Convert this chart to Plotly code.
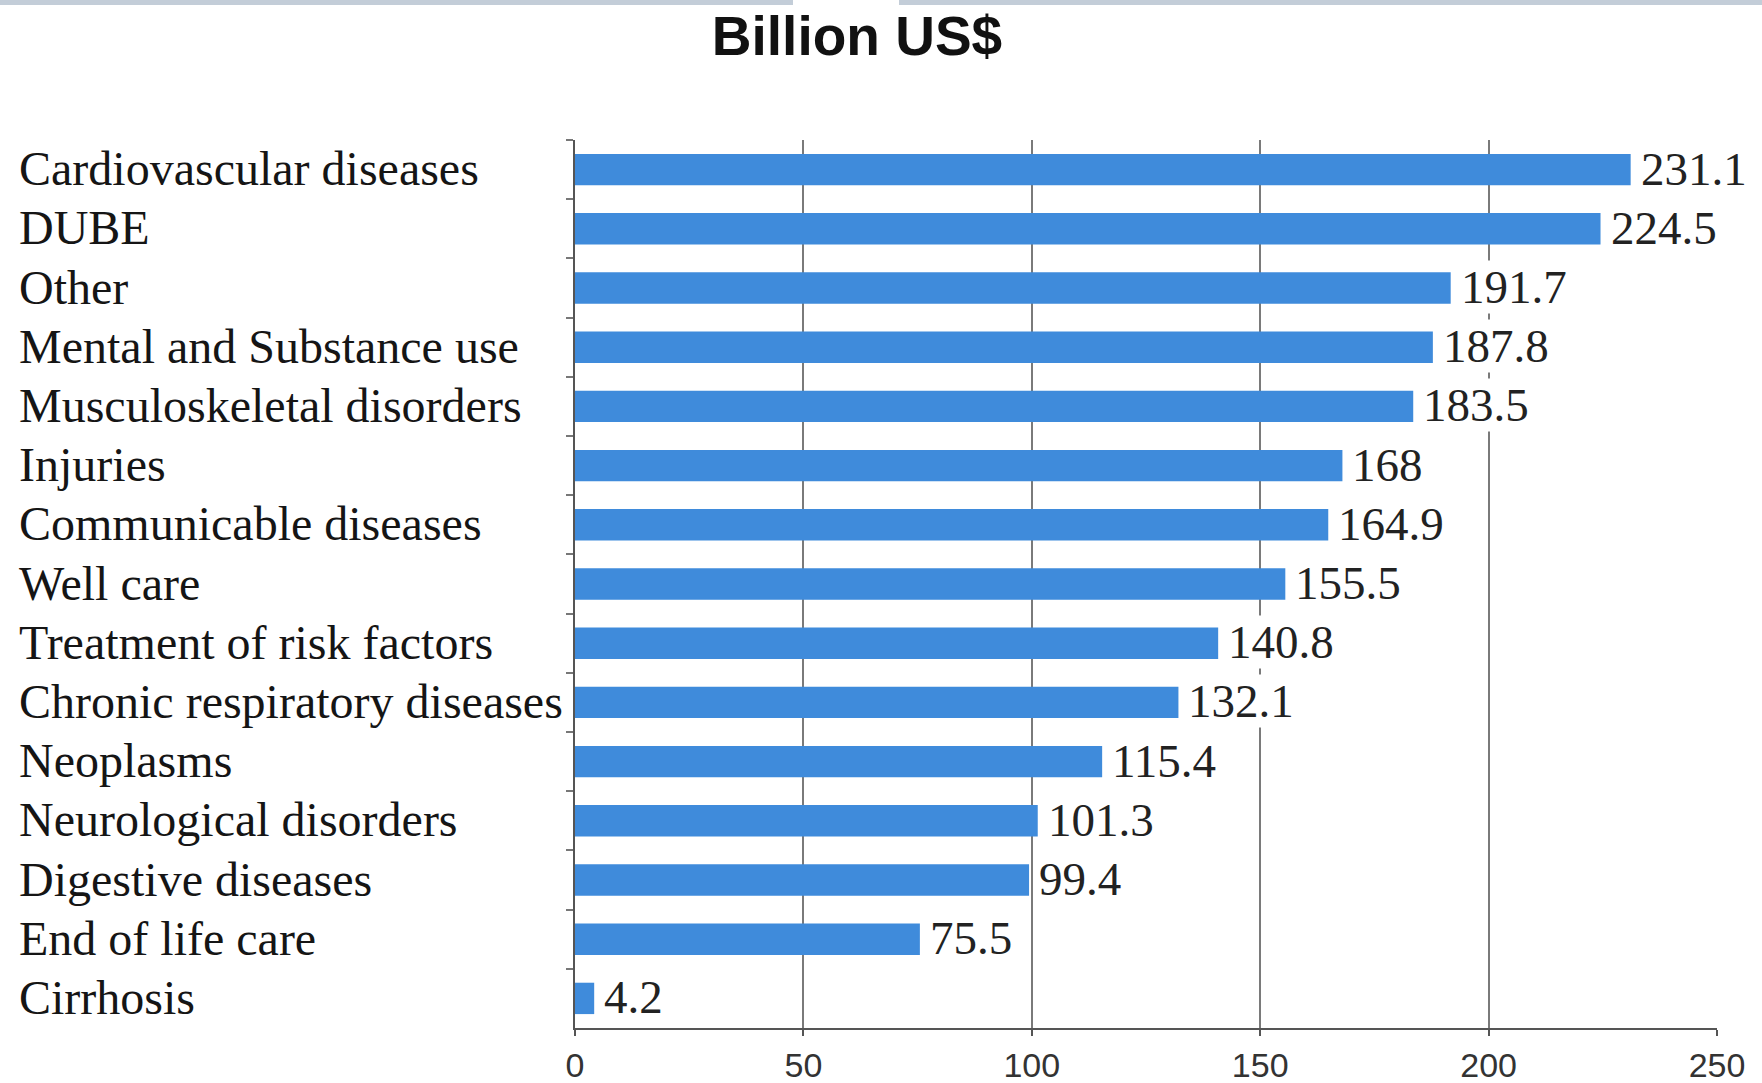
import plotly.graph_objects as go

categories = [
    "Cardiovascular diseases", "DUBE", "Other", "Mental and Substance use",
    "Musculoskeletal disorders", "Injuries", "Communicable diseases", "Well care",
    "Treatment of risk factors", "Chronic respiratory diseases", "Neoplasms",
    "Neurological disorders", "Digestive diseases", "End of life care", "Cirrhosis",
]
values = [231.1, 224.5, 191.7, 187.8, 183.5, 168, 164.9, 155.5, 140.8, 132.1,
          115.4, 101.3, 99.4, 75.5, 4.2]
value_labels = ["231.1", "224.5", "191.7", "187.8", "183.5", "168", "164.9", "155.5",
                "140.8", "132.1", "115.4", "101.3", "99.4", "75.5", "4.2"]
x_ticks = [0, 50, 100, 150, 200, 250]
title_text = "Billion US$"

W, H = 1762, 1083
ML, MR, MT, MB = 575, 45, 140, 55
PW = W - ML - MR
PH = H - MT - MB

BAR = "#3F8BDB"
SERIF = "Liberation Serif, Times New Roman, serif"
SANS = "Liberation Sans, Arial, sans-serif"

fig = go.Figure()
fig.add_trace(go.Bar(
    x=values, y=categories, orientation="h",
    marker=dict(color=BAR, line=dict(width=0)),
    hoverinfo="x+y",
))

annotations = []
for c, v, t in zip(categories, values, value_labels):
    annotations.append(dict(
        x=v, y=c, xref="x", yref="y", text=t, showarrow=False,
        xanchor="left", yanchor="middle", xshift=9, yshift=1,
        font=dict(family=SERIF, size=47, color="#222222"),
        bgcolor="white", borderpad=0,
    ))
for c in categories:
    annotations.append(dict(
        x=-(ML - 17) / PW, y=c, xref="paper", yref="y", text=c, showarrow=False,
        xanchor="left", yanchor="middle", yshift=1,
        font=dict(family=SERIF, size=48, color="#151515"),
    ))

# screenshot top strip
shapes = [
    dict(type="rect", xref="paper", yref="paper",
         x0=-ML / PW, x1=(793 - ML) / PW, y0=1 + (MT - 5) / PH, y1=1 + MT / PH,
         fillcolor="#C3CDD8", line=dict(width=0), layer="above"),
    dict(type="rect", xref="paper", yref="paper",
         x0=(899 - ML) / PW, x1=1 + MR / PW, y0=1 + (MT - 5) / PH, y1=1 + MT / PH,
         fillcolor="#C3CDD8", line=dict(width=0), layer="above"),
]

fig.update_layout(
    width=W, height=H,
    margin=dict(l=ML, r=MR, t=MT, b=MB, autoexpand=False),
    paper_bgcolor="white", plot_bgcolor="white",
    bargap=0.47,
    showlegend=False,
    title=dict(text="<b>" + title_text + "</b>", x=857 / W, xanchor="center",
               y=1 - 36 / H, yanchor="middle", yref="container",
               font=dict(family=SANS, size=55, color="#111111")),
    xaxis=dict(range=[0, 250], tickvals=x_ticks, ticktext=[str(t) for t in x_ticks],
               showgrid=True, gridcolor="#7a7a7a", gridwidth=2,
               zeroline=False, showline=True, linecolor="#555555", linewidth=2,
               ticks="outside", ticklen=6, tickcolor="#555555", tickwidth=2,
               tickfont=dict(family=SANS, size=34, color="#333333"),
               fixedrange=True),
    yaxis=dict(autorange="reversed", showticklabels=False, showgrid=False,
               zeroline=False, showline=True, linecolor="#555555", linewidth=2,
               ticks="outside", tickson="boundaries", ticklen=7,
               tickcolor="#777777", tickwidth=2),
    annotations=annotations,
    shapes=shapes,
)

fig.write_html("out.html")
